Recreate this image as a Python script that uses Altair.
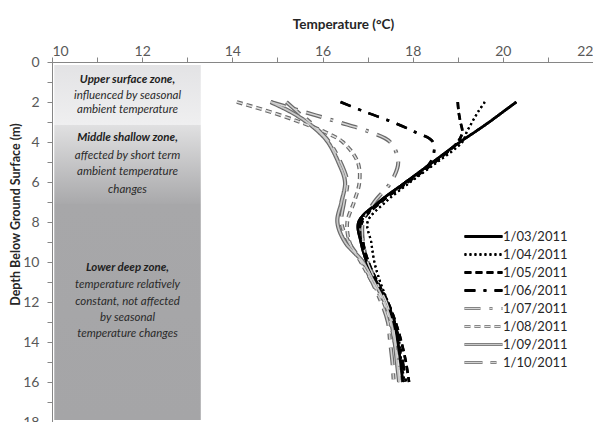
import altair as alt
import pandas as pd

# ---------------- data ----------------
dates = ["1/03/2011", "1/04/2011", "1/05/2011", "1/06/2011",
         "1/07/2011", "1/08/2011", "1/09/2011", "1/10/2011"]

depths = [2, 2.5, 3, 3.5, 4, 5, 6, 7, 8, 9, 10, 11, 12, 13, 14, 15, 16]

t_0103 = [20.3, 20.0, 19.7, 19.38, 19.05, 18.45, 17.85, 17.25, 16.8, 16.85, 16.98, 17.18, 17.42, 17.58, 17.67, 17.73, 17.78]
t_0104 = [19.6, 19.45, 19.32, 19.2, 19.1, 18.55, 17.95, 17.4, 17.0, 17.08, 17.15, 17.28, 17.45, 17.6, 17.7, 17.75, 17.82]
t_0105 = [19.0, 19.02, 19.06, 19.1, 19.0, 18.5, 17.9, 17.3, 16.88, 16.9, 17.02, 17.22, 17.45, 17.62, 17.75, 17.85, 17.92]
t_0106 = [16.4, 16.95, 17.55, 18.05, 18.45, 18.4, 17.85, 17.27, 16.85, 16.88, 17.0, 17.2, 17.43, 17.6, 17.7, 17.78, 17.85]
t_0107 = [14.85, 15.6, 16.35, 17.05, 17.5, 17.68, 17.52, 17.15, 16.9, 16.9, 17.0, 17.2, 17.42, 17.55, 17.62, 17.68, 17.72]
t_0108 = [14.1, 14.85, 15.5, 16.05, 16.45, 16.78, 16.82, 16.7, 16.55, 16.6, 16.85, 17.1, 17.35, 17.5, 17.6, 17.68, 17.72]
t_0109 = [14.85, 15.3, 15.65, 15.92, 16.12, 16.35, 16.5, 16.42, 16.33, 16.5, 16.9, 17.15, 17.38, 17.52, 17.6, 17.65, 17.7]
t_0110 = [15.2, 15.45, 15.72, 15.95, 16.15, 16.4, 16.55, 16.48, 16.42, 16.58, 16.88, 17.1, 17.3, 17.45, 17.5, 17.55, 17.58]

series = [t_0103, t_0104, t_0105, t_0106, t_0107, t_0108, t_0109, t_0110]

# zone boxes (temperature extent and depth extent)
zone_names = ["upper", "middle", "lower"]
zone_top = [0.15, 3.15, 7.1]
zone_bottom = [3.15, 7.1, 17.9]
zone_t0 = [10.05, 10.05, 10.05]
zone_t1 = [13.3, 13.3, 13.3]

zone_lines = ["Upper surface zone,", "influenced by seasonal", "ambient temperature",
              "Middle shallow zone,", "affected by short term", "ambient temperature", "changes",
              "Lower deep zone,", "temperature relatively", "constant, not affected",
              "by seasonal", "temperature changes"]
zone_line_depth = [0.9, 1.72, 2.42, 3.8, 4.7, 5.52, 6.4, 10.3, 11.15, 12.0, 12.8, 13.6]
zone_line_bold = [True, False, False, True, False, False, False, True, False, False, False, False]

# ---------------- styles ----------------
FONT = "Lato"
outer_colors = ["#000000", "#000000", "#000000", "#000000", "#6a6a6a", "#6a6a6a", "#6a6a6a", "#6a6a6a"]
inner_colors = ["#000000", "#000000", "#000000", "#000000", "#d6d6d6", "#e0e0e0", "#c8c8c8", "#d2d2d2"]
dashes = [[1, 0], [2, 3], [7, 4], [11, 8, 3, 8], [16, 9, 3, 9], [6, 4], [1, 0], [18, 8, 6, 8]]
outer_w = [2.6, 2.2, 2.6, 2.6, 4.0, 3.8, 4.2, 4.0]
inner_w = [2.6, 2.2, 2.6, 2.6, 1.5, 1.5, 1.8, 1.6]

rows = []
for i, d in enumerate(dates):
    for dep, t in zip(depths, series[i]):
        rows.append({"date": d, "depth": dep, "temp": t, "ow": outer_w[i], "iw": inner_w[i]})
df = pd.DataFrame(rows)

zones = pd.DataFrame({"zone": zone_names, "top": zone_top, "bottom": zone_bottom,
                      "t0": zone_t0, "t1": zone_t1})
zt = pd.DataFrame({"line": zone_lines, "depth": zone_line_depth, "bold": zone_line_bold})
zt["t"] = (zone_t0[0] + zone_t1[0]) / 2

x_scale = alt.Scale(domain=[10, 22], nice=False, zero=False)
y_scale = alt.Scale(domain=[0, 18], reverse=True, nice=False, zero=False)

x_axis = alt.Axis(orient="top", values=list(range(10, 23)),
                  labelExpr="datum.value % 2 === 0 ? datum.label : ''",
                  title="Temperature (°C)", titleX=291, titleY=-38,
                  titleBaseline="middle", titleAlign="center",
                  labelPadding=-1, titleFontSize=13.5)
y_axis = alt.Axis(orient="left", values=list(range(0, 19)),
                  labelExpr="datum.value % 2 === 0 ? datum.label : ''",
                  title="Depth Below Ground Surface (m)", titleX=-37, titleY=152,
                  titleBaseline="middle", titleAlign="center", titleAngle=270,
                  labelPadding=8, titleFontSize=12.5)


def X(field):
    return alt.X(field, type="quantitative", scale=x_scale, axis=x_axis)


def Y(field):
    return alt.Y(field, type="quantitative", scale=y_scale, axis=y_axis)


grad = {
    "upper": ("#e3e3e5", "#efeff0"),
    "middle": ("#e0e0e1", "#a9a9ab"),
    "lower": ("#a7a7a9", "#a5a5a7"),
}

zone_layers = []
for z in zone_names:
    c0, c1 = grad[z]
    zone_layers.append(
        alt.Chart(zones).transform_filter(alt.datum.zone == z).mark_rect(
            fill=alt.LinearGradient(gradient="linear",
                                    stops=[alt.GradientStop(offset=0, color=c0),
                                           alt.GradientStop(offset=1, color=c1)],
                                    x1=0, x2=0, y1=0, y2=1)
        ).encode(x=X("t0"), x2="t1", y=Y("top"), y2="bottom")
    )

txt_bold = alt.Chart(zt).transform_filter(alt.datum.bold == True).mark_text(
    font=FONT, fontSize=11.5, fontStyle="italic", fontWeight="bold", color="#1e1e1e",
    align="center", baseline="middle"
).encode(x=X("t"), y=Y("depth"), text="line:N")

txt_norm = alt.Chart(zt).transform_filter(alt.datum.bold == False).mark_text(
    font=FONT, fontSize=11.5, fontStyle="italic", color="#2a2a2a",
    align="center", baseline="middle"
).encode(x=X("t"), y=Y("depth"), text="line:N")

LEG_X = 425
LEG_Y = 168


def legend(show_labels, sw):
    return alt.Legend(title=None, orient="none", legendX=LEG_X, legendY=LEG_Y,
                      symbolType="M-5,0H5", symbolSize=58, symbolStrokeWidth=sw,
                      symbolFillColor="transparent",
                      labelFont=FONT, labelFontSize=13, labelColor="#262626",
                      labelOpacity=1 if show_labels else 0,
                      labelOffset=13, rowPadding=4, padding=0)


outer = alt.Chart(df).mark_line(interpolate="catmull-rom", strokeCap="butt", strokeJoin="round").encode(
    x=X("temp"), y=Y("depth"), order="depth:Q",
    color=alt.Color("date:N", scale=alt.Scale(domain=dates, range=outer_colors), legend=legend(True, 3)),
    strokeDash=alt.StrokeDash("date:N", scale=alt.Scale(domain=dates, range=dashes), legend=legend(True, 3)),
    strokeWidth=alt.StrokeWidth("ow:Q", scale=None),
)

inner = alt.Chart(df).mark_line(interpolate="catmull-rom", strokeCap="butt", strokeJoin="round").encode(
    x=X("temp"), y=Y("depth"), order="depth:Q",
    color=alt.Color("date:N", scale=alt.Scale(domain=dates, range=inner_colors), legend=legend(False, 1.3)),
    strokeDash=alt.StrokeDash("date:N", scale=alt.Scale(domain=dates, range=dashes), legend=legend(False, 1.3)),
    strokeWidth=alt.StrokeWidth("iw:Q", scale=None),
)

chart = alt.layer(*zone_layers, txt_bold, txt_norm, outer, inner).resolve_scale(
    color="independent", strokeDash="independent"
).properties(
    width=541, height=360,
    autosize=alt.AutoSizeParams(type="none"),
    padding={"left": 44, "top": 54, "right": 0, "bottom": 0},
).configure_view(
    stroke="#d0d0d0", strokeWidth=1
).configure_axis(
    grid=False, domainColor="#868686", tickColor="#868686", tickSize=5,
    labelFont=FONT, labelFontSize=14, labelColor="#595959",
    titleFont=FONT, titleFontWeight="bold", titleColor="#262626",
)

chart.save("out.html", embed_options={"renderer": "svg", "actions": False})
